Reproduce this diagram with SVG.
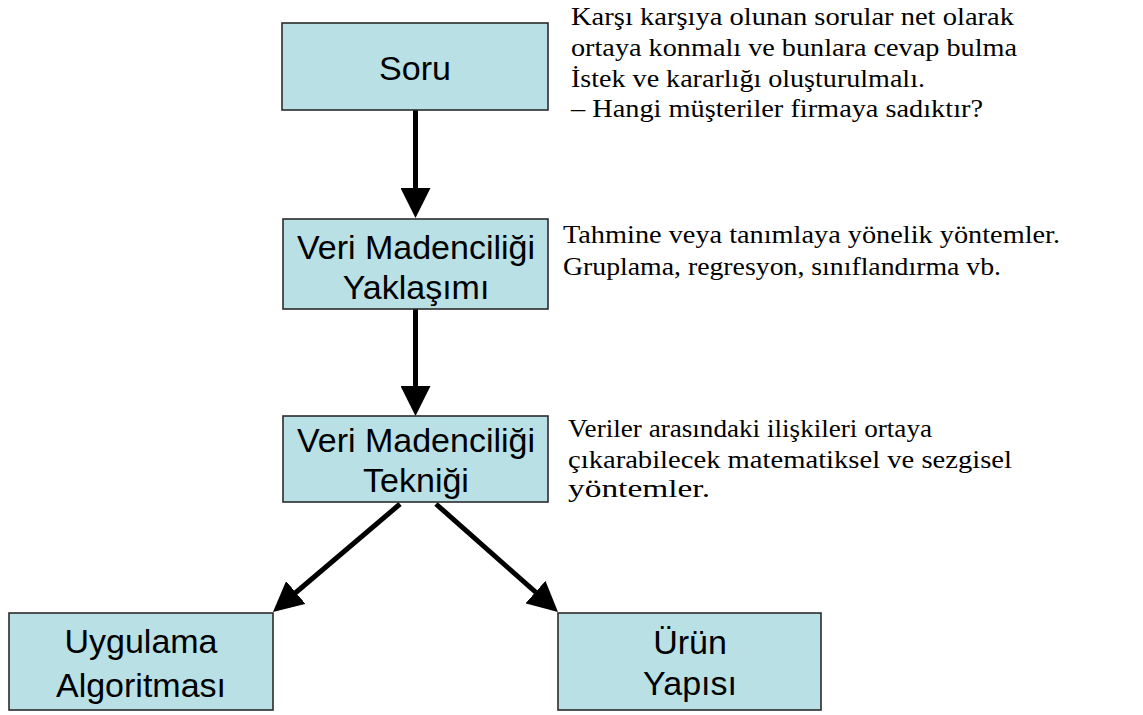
<svg xmlns="http://www.w3.org/2000/svg" width="1143" height="715" viewBox="0 0 1143 715">
  <style>
    .box { fill: #b9e0e4; stroke: #2b2b2b; stroke-width: 1.6; }
    .lbl { font-family: "Liberation Sans", Arial, sans-serif; font-size: 34px; fill: #000; text-anchor: middle; }
    .note { font-family: "Liberation Serif", "Times New Roman", serif; font-size: 26px; fill: #000; }
    .edge { stroke: #000; stroke-width: 5; fill: none; marker-end: url(#head); }
  </style>
  <defs>
    <marker id="head" viewBox="0 0 30 30" refX="10" refY="15" markerWidth="30" markerHeight="30" markerUnits="userSpaceOnUse" orient="auto">
      <path d="M0,0 L30,15 L0,30 z" fill="#000"/>
    </marker>
  </defs>
  <rect width="1143" height="715" fill="#fff"/>

  <g id="connectors">
    <line class="edge" x1="415.5" y1="110" x2="415.5" y2="198"/>
    <line class="edge" x1="415.5" y1="309" x2="415.5" y2="396"/>
    <line class="edge" x1="400" y1="504" x2="288.2" y2="599"/>
    <line class="edge" x1="436" y1="504" x2="543" y2="598.7"/>
  </g>

  <g id="soru">
    <rect class="box" x="282" y="23" width="266" height="87"/>
    <text class="lbl" x="415" y="80">Soru</text>
  </g>

  <g id="yaklasim">
    <rect class="box" x="283" y="219" width="265" height="90"/>
    <text class="lbl" x="416" y="259">Veri Madenciliği</text>
    <text class="lbl" x="416" y="299">Yaklaşımı</text>
  </g>

  <g id="teknik">
    <rect class="box" x="283" y="416" width="265" height="86"/>
    <text class="lbl" x="416" y="452">Veri Madenciliği</text>
    <text class="lbl" x="416" y="492">Tekniği</text>
  </g>

  <g id="algoritma">
    <rect class="box" x="9" y="613" width="264" height="97"/>
    <text class="lbl" x="141" y="653">Uygulama</text>
    <text class="lbl" x="141" y="697">Algoritması</text>
  </g>

  <g id="urun">
    <rect class="box" x="558" y="613" width="263" height="97"/>
    <text class="lbl" x="690" y="654">Ürün</text>
    <text class="lbl" x="690" y="695">Yapısı</text>
  </g>

  <g id="note-soru">
    <text class="note" x="571" y="25" textLength="443" lengthAdjust="spacingAndGlyphs">Karşı karşıya olunan sorular net olarak</text>
    <text class="note" x="571" y="55.5" textLength="446" lengthAdjust="spacingAndGlyphs">ortaya konmalı ve bunlara cevap bulma</text>
    <text class="note" x="571" y="87" textLength="354" lengthAdjust="spacingAndGlyphs">İstek ve kararlığı oluşturulmalı.</text>
    <text class="note" x="571" y="117" textLength="412" lengthAdjust="spacingAndGlyphs">– Hangi müşteriler firmaya sadıktır?</text>
  </g>

  <g id="note-yaklasim">
    <text class="note" x="563" y="243" textLength="497" lengthAdjust="spacingAndGlyphs">Tahmine veya tanımlaya yönelik yöntemler.</text>
    <text class="note" x="563" y="275" textLength="438" lengthAdjust="spacingAndGlyphs">Gruplama, regresyon, sınıflandırma vb.</text>
  </g>

  <g id="note-teknik">
    <text class="note" x="568" y="437" textLength="364" lengthAdjust="spacingAndGlyphs">Veriler arasındaki ilişkileri ortaya</text>
    <text class="note" x="568" y="468" textLength="444" lengthAdjust="spacingAndGlyphs">çıkarabilecek matematiksel ve sezgisel</text>
    <text class="note" x="568" y="497" textLength="142" lengthAdjust="spacingAndGlyphs">yöntemler.</text>
  </g>
</svg>
